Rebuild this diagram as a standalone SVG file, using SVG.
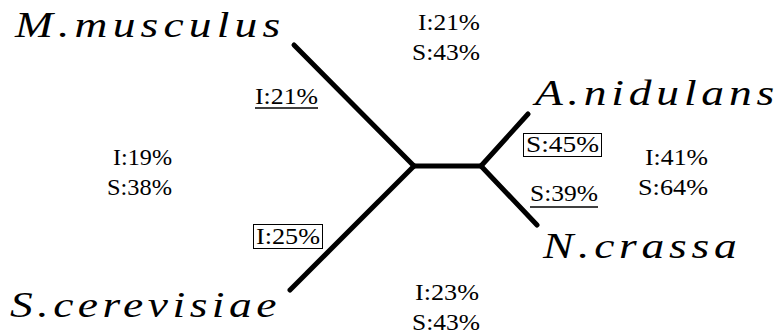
<svg xmlns="http://www.w3.org/2000/svg" width="779" height="334" viewBox="0 0 779 334">
<style>
text{font-family:'Liberation Serif','Times New Roman','DejaVu Serif',serif;fill:#000}
.sp{font-style:italic;font-size:35px}
.pc{font-size:23px}
.ln{stroke:#000;stroke-width:5;stroke-linecap:round;fill:none}
.bx{fill:none;stroke:#000;stroke-width:1}
.ul{stroke:#000;stroke-width:1.5}
</style>
<rect width="779" height="334" fill="#fff"/>
<g id="connectors">
<line class="ln" x1="294" y1="45" x2="414" y2="166"/>
<line class="ln" x1="290" y1="290" x2="414" y2="166"/>
<line class="ln" x1="414" y1="166" x2="481" y2="166"/>
<line class="ln" x1="481" y1="166" x2="528" y2="114"/>
<line class="ln" x1="481" y1="166" x2="537" y2="225"/>
</g>
<g id="node-mmusculus"><text class="sp" transform="translate(15,37) scale(1.3,1)" x="0" y="0" textLength="204" lengthAdjust="spacing">M.musculus</text></g>
<g id="node-anidulans"><text class="sp" transform="translate(535,105) scale(1.3,1)" x="0" y="0" textLength="184" lengthAdjust="spacing">A.nidulans</text></g>
<g id="node-ncrassa"><text class="sp" transform="translate(543,258) scale(1.3,1)" x="0" y="0" textLength="149" lengthAdjust="spacing">N.crassa</text></g>
<g id="node-scerevisiae"><text class="sp" transform="translate(10,317) scale(1.3,1)" x="0" y="0" textLength="205" lengthAdjust="spacing">S.cerevisiae</text></g>
<g id="label-top">
<text class="pc" x="418" y="30" textLength="62" lengthAdjust="spacingAndGlyphs">I:21%</text>
<text class="pc" x="412" y="60" textLength="68" lengthAdjust="spacingAndGlyphs">S:43%</text>
</g>
<g id="label-left-upper">
<text class="pc" x="255" y="104" textLength="63" lengthAdjust="spacingAndGlyphs">I:21%</text>
<line class="ul" x1="255" y1="108" x2="318" y2="108"/>
</g>
<g id="label-left">
<text class="pc" x="113" y="165" textLength="59" lengthAdjust="spacingAndGlyphs">I:19%</text>
<text class="pc" x="107" y="195" textLength="65" lengthAdjust="spacingAndGlyphs">S:38%</text>
</g>
<g id="label-left-lower">
<rect class="bx" x="253.5" y="224.5" width="69" height="24"/>
<text class="pc" x="256" y="244" textLength="64" lengthAdjust="spacingAndGlyphs">I:25%</text>
</g>
<g id="label-right-upper">
<rect class="bx" x="523.5" y="133.5" width="78" height="23"/>
<text class="pc" x="526" y="152" textLength="73" lengthAdjust="spacingAndGlyphs">S:45%</text>
</g>
<g id="label-right-lower">
<text class="pc" x="530" y="201" textLength="68" lengthAdjust="spacingAndGlyphs">S:39%</text>
<line class="ul" x1="530" y1="207" x2="598" y2="207"/>
</g>
<g id="label-right">
<text class="pc" x="645" y="165" textLength="63" lengthAdjust="spacingAndGlyphs">I:41%</text>
<text class="pc" x="638" y="195" textLength="70" lengthAdjust="spacingAndGlyphs">S:64%</text>
</g>
<g id="label-bottom">
<text class="pc" x="415" y="300" textLength="64" lengthAdjust="spacingAndGlyphs">I:23%</text>
<text class="pc" x="412" y="330" textLength="68" lengthAdjust="spacingAndGlyphs">S:43%</text>
</g>
</svg>
